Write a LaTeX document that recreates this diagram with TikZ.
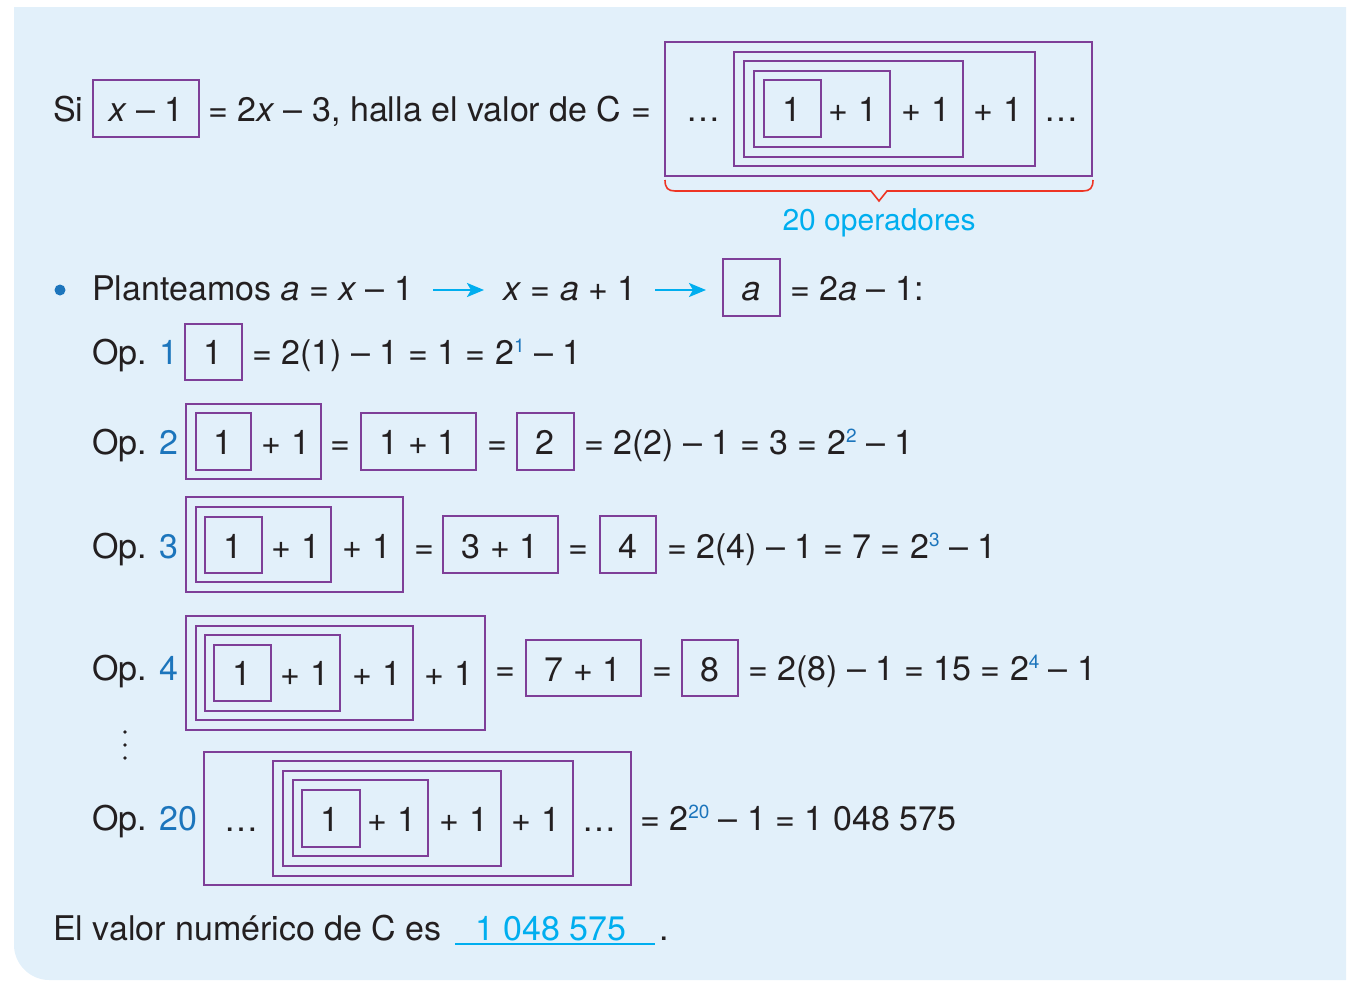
\documentclass[tikz,border=0pt]{standalone}
\usepackage{fontspec}
\setmainfont{TeX Gyre Heros}
\usetikzlibrary{arrows.meta}
\definecolor{bgblue}{HTML}{E2F0FA}
\definecolor{txt}{HTML}{231F20}
\definecolor{boxpurple}{HTML}{7E3F98}
\definecolor{opblue}{HTML}{1C75BC}
\definecolor{cyanc}{HTML}{00AEEF}
\definecolor{bracered}{HTML}{EE3524}
\newcommand{\supb}[1]{\raisebox{12pt}{\fontsize{19}{19}\selectfont\color{opblue}#1}}
\newcommand{\opn}[1]{{\color{opblue}#1}}
\begin{document}
\begin{tikzpicture}[x=1pt,y=-1pt,
  every node/.style={inner sep=0pt, text=txt, font=\fontsize{34}{40}\selectfont},
  tl/.style={anchor=base west},
  tc/.style={anchor=base},
  pbox/.style={draw=boxpurple, line width=2pt},
  arr/.style={draw=cyanc, line width=2.4pt, -{Stealth[length=17pt,width=14pt,inset=4pt]}}]
\useasboundingbox (0,0) rectangle (1361,988);
% background
\fill[bgblue] (14,7) -- (1346,7) -- (1346,980) -- (49,980) .. controls (30,980) and (14,964) .. (14,945) -- cycle;

% ---------- title row ----------
\node[tl] (si) at (53,121) {Si};
\draw[pbox] (93,80) rectangle (199,137);
\node[tc] (xm1) at (146,121) {\textit{x} – 1};
\node[tl] (eq0) at (208,121) {= 2\textit{x} – 3, halla el valor de C =};
\draw[pbox] (665,42) rectangle (1092,176);
\draw[pbox] (734,52) rectangle (1035,166);
\draw[pbox] (744,61) rectangle (963,157);
\draw[pbox] (754,71) rectangle (890,147);
\draw[pbox] (764,80) rectangle (821,137);
\node[tc] (c0) at (703,121) {\dots};
\node[tc] (c1) at (792,121) {1};
\node[tc] (c2) at (853,121) {+ 1};
\node[tc] (c3) at (926,121) {+ 1};
\node[tc] (c4) at (998,121) {+ 1};
\node[tc] (c5) at (1061,121) {\dots};
% brace
\draw[bracered, line width=1.6pt, line join=miter]
  (665,180) .. controls (665,188) and (668,191) .. (675,191) -- (871,191) -- (879,201)
  -- (887,191) -- (1083,191) .. controls (1090,191) and (1093,188) .. (1093,180);
\node[tc, text=cyanc, font=\fontsize{30}{36}\selectfont] (ops) at (879,230) {20 operadores};

% ---------- Planteamos row ----------
\fill[opblue] (60,290) circle (5.5);
\node[tl] (pl) at (92,300) {Planteamos \textit{a} = \textit{x} – 1};
\coordinate (a1s) at (433,290);
\coordinate (a1e) at (484,290);
\draw[arr] (a1s) -- (a1e);
\node[tl] (xa) at (503,300) {\textit{x} = \textit{a} + 1};
\coordinate (a2s) at (655,290);
\coordinate (a2e) at (706,290);
\draw[arr] (a2s) -- (a2e);
\draw[pbox] (723,259) rectangle (780,316);
\node[tc] (abox) at (751,300) {\textit{a}};
\node[tl] (eqa) at (790,300) {= 2\textit{a} – 1:};

% ---------- Op. 1 ----------
\node[tl] (op1) at (92,364) {Op. \opn{1}};
\draw[pbox] (185,324) rectangle (242,380);
\node[tc] (o1a) at (213,364) {1};
\node[tl] (o1b) at (252,364) {= 2(1) – 1 = 1 = 2\supb{1} – 1};

% ---------- Op. 2 ----------
\node[tl] (op2) at (92,454) {Op. \opn{2}};
\draw[pbox] (186,404) rectangle (321,479);
\draw[pbox] (196,413) rectangle (251,470);
\node[tc] (o2a) at (223,454) {1};
\node[tc] (o2b) at (286,454) {+ 1};
\node[tc] (o2c) at (340,454) {=};
\draw[pbox] (361,413) rectangle (476,470);
\node[tc] (o2d) at (418,454) {1 + 1};
\node[tc] (o2e) at (497,454) {=};
\draw[pbox] (517,413) rectangle (574,470);
\node[tc] (o2f) at (545,454) {2};
\node[tl] (o2g) at (584,454) {= 2(2) – 1 = 3 = 2\supb{2} – 1};

% ---------- Op. 3 ----------
\node[tl] (op3) at (92,558) {Op. \opn{3}};
\draw[pbox] (186,497) rectangle (403,592);
\draw[pbox] (196,507) rectangle (331,582);
\draw[pbox] (205,517) rectangle (262,573);
\node[tc] (o3a) at (233,558) {1};
\node[tc] (o3b) at (296,558) {+ 1};
\node[tc] (o3c) at (367,558) {+ 1};
\node[tc] (o3d) at (424,558) {=};
\draw[pbox] (443,516) rectangle (558,573);
\node[tc] (o3e) at (500,558) {3 + 1};
\node[tc] (o3f) at (578,558) {=};
\draw[pbox] (600,516) rectangle (656,573);
\node[tc] (o3g) at (628,558) {4};
\node[tl] (o3h) at (667,558) {= 2(4) – 1 = 7 = 2\supb{3} – 1};

% ---------- Op. 4 ----------
\node[tl] (op4) at (92,680) {Op. \opn{4}};
\draw[pbox] (186,616) rectangle (485,730);
\draw[pbox] (196,626) rectangle (413,720);
\draw[pbox] (205,635) rectangle (340,711);
\draw[pbox] (214,645) rectangle (271,701);
\node[tc] (o4a) at (242,685) {1};
\node[tc] (o4b) at (305,685) {+ 1};
\node[tc] (o4c) at (377,685) {+ 1};
\node[tc] (o4d) at (449,685) {+ 1};
\node[tc] (o4e) at (505,680) {=};
\draw[pbox] (526,640) rectangle (641,696);
\node[tc] (o4f) at (583,681) {7 + 1};
\node[tc] (o4g) at (662,680) {=};
\draw[pbox] (682,640) rectangle (738,696);
\node[tc] (o4h) at (710,681) {8};
\node[tl] (o4i) at (748,680) {= 2(8) – 1 = 15 = 2\supb{4} – 1};

% vertical dots
\fill[txt] (125,732) circle (1.8) (125,745) circle (1.8) (125,758) circle (1.8);

% ---------- Op. 20 ----------
\node[tl] (op20) at (92,830) {Op. \opn{20}};
\draw[pbox] (204,752) rectangle (631,885);
\draw[pbox] (273,761) rectangle (573,876);
\draw[pbox] (283,771) rectangle (501,866);
\draw[pbox] (293,780) rectangle (428,856);
\draw[pbox] (302,790) rectangle (360,847);
\node[tc] (t0) at (241,831) {\dots};
\node[tc] (t1) at (330,831) {1};
\node[tc] (t2) at (392,831) {+ 1};
\node[tc] (t3) at (464,831) {+ 1};
\node[tc] (t4) at (536,831) {+ 1};
\node[tc] (t5) at (599,831) {\dots};
\node[tl] (t6) at (640,830) {= 2\supb{20} – 1 = 1 048 575};

% ---------- final line ----------
\node[tl] (fin) at (53,940) {El valor numérico de C es};
\coordinate (ul1) at (455,944);
\coordinate (ul2) at (655,944);
\draw[cyanc, line width=1.6pt] (ul1) -- (ul2);
\node[tl, text=cyanc] (ans) at (475,940) {1 048 575};
\node[tl] (dot) at (659,940) {.};
\end{tikzpicture}
\end{document}
